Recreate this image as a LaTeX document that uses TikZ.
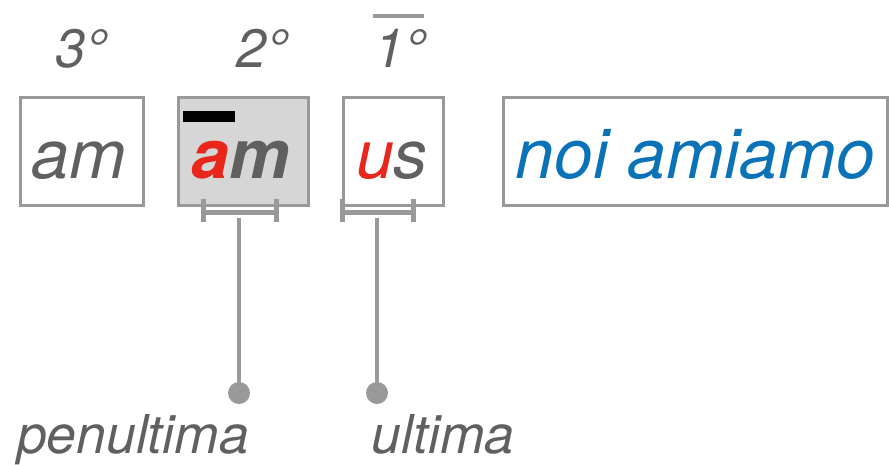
\documentclass[tikz,border=0pt]{standalone}
\usepackage{fontspec}
\setmainfont{TeX Gyre Heros}
\definecolor{txtgray}{HTML}{606060}
\definecolor{linegray}{HTML}{999999}
\definecolor{fillgray}{HTML}{D6D6D6}
\definecolor{accred}{HTML}{E8261A}
\definecolor{accblue}{HTML}{0A73B8}
\tikzset{
  box/.style={draw=linegray, line width=3pt, rectangle, inner sep=0pt},
  word/.style={anchor=base, inner sep=0pt, font=\fontsize{68}{68}\selectfont\itshape, text=txtgray},
  deg/.style={anchor=base, inner sep=0pt, font=\fontsize{54}{54}\selectfont\itshape, text=txtgray},
  captxt/.style={anchor=base, inner sep=0pt, font=\fontsize{53.5}{53.5}\selectfont\itshape, text=txtgray},
  brace/.style={draw=linegray, line width=5pt},
  stem/.style={draw=linegray, line width=4.5pt},
  dot/.style={circle, fill=linegray, minimum size=22pt, inner sep=0pt},
}
\begin{document}
\begin{tikzpicture}[x=1pt,y=-1pt]
\useasboundingbox (0,0) rectangle (889,464);
% boxes
\node[box, minimum width=123pt, minimum height=108pt] (b3) at (81.5,151) {};
\node[box, fill=fillgray, minimum width=130pt, minimum height=108pt] (b2) at (243,151) {};
\node[box, minimum width=100pt, minimum height=108pt] (b1) at (393,151) {};
\node[box, minimum width=384pt, minimum height=108pt] (b0) at (695.5,151) {};
% long mark
\fill[black] (183,111) rectangle (235,122);
% words
\node[word] (w3) at (79,178) {am};
\node[word] (w2) at (240.5,178) {\bfseries\textcolor{accred}{a}m};
\node[word] (w1) at (392,178) {\textcolor{accred}{u}s};
\node[word, text=accblue, font=\fontsize{69.5}{69.5}\selectfont\itshape] (w0) at (695.5,178) {noi amiamo};
% degree labels
\node[deg] (d3) at (81,67) {3°};
\node[deg] (d2) at (262,67) {2°};
\node[deg] (d1) at (400,67) {1°};
\coordinate (ol1) at (373,15.5);
\coordinate (ol2) at (424,15.5);
\draw[linegray, line width=4pt] (ol1) -- (ol2);
% brackets
\coordinate (pl) at (203,212);
\coordinate (pr) at (276,212);
\coordinate (ul) at (342,212);
\coordinate (ur) at (413,212);
\draw[brace] (pl) -- (pr);
\draw[brace] ([yshift=-10pt]pl) -- ([yshift=13pt]pl);
\draw[brace] ([yshift=-10pt]pr) -- ([yshift=13pt]pr);
\draw[brace] (ul) -- (ur);
\draw[brace] ([yshift=-10pt]ul) -- ([yshift=13pt]ul);
\draw[brace] ([yshift=-10pt]ur) -- ([yshift=13pt]ur);
% stems
\coordinate (ps) at (239,218);
\coordinate (us) at (377,218);
\node[dot] (pd) at (239,393) {};
\node[dot] (ud) at (377,393) {};
\draw[stem] (ps) -- (pd.center);
\draw[stem] (us) -- (ud.center);
% captions
\node[captxt] (cp) at (133,453) {penultima};
\node[captxt] (cu) at (443,453) {ultima};
\end{tikzpicture}
\end{document}
